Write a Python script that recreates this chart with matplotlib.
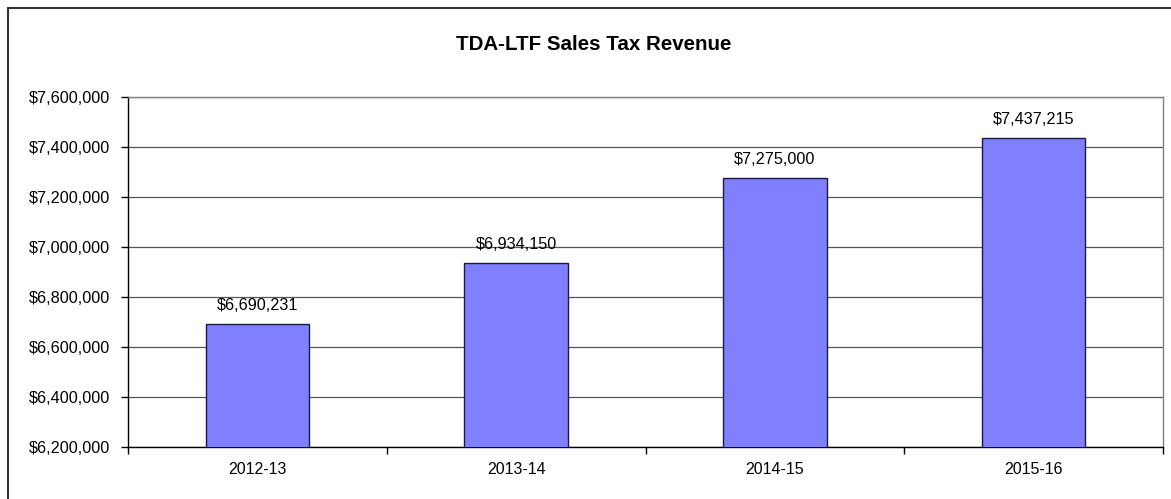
import matplotlib
matplotlib.use("Agg")
import matplotlib.pyplot as plt
from matplotlib.ticker import FuncFormatter
from matplotlib.lines import Line2D

plt.rcParams['font.family'] = ['Liberation Sans', 'DejaVu Sans']

# Data
years = ["2012-13", "2013-14", "2014-15", "2015-16"]
revenue = [6690231, 6934150, 7275000, 7437215]
y_ticks = [6200000, 6400000, 6600000, 6800000, 7000000, 7200000, 7400000, 7600000]

fig = plt.figure(figsize=(11.71, 4.99), dpi=100)
ax = fig.add_axes([128 / 1171, 1 - 447 / 499, (1163 - 128) / 1171, (447 - 97) / 499])

x = list(range(len(years)))
ax.bar(x, revenue, width=0.4, color="#8080FF", edgecolor="#1a1a40", linewidth=1, zorder=3)

# value labels above bars
for xi, v in zip(x, revenue):
    ax.annotate("${:,}".format(v), (xi, v), xytext=(0, 8), textcoords="offset points",
                ha="center", va="bottom", fontsize=11.7)

ax.set_xlim(-0.5, len(years) - 0.5)
ax.set_ylim(y_ticks[0], y_ticks[-1])
ax.set_yticks(y_ticks)
ax.yaxis.set_major_formatter(FuncFormatter(lambda v, p: "${:,.0f}".format(v)))
ax.grid(axis="y", color="#555555", linewidth=0.9, zorder=0)

# ticks at category boundaries, labels at centres
ax.set_xticks([i - 0.5 for i in range(len(years) + 1)])
ax.set_xticklabels([])
ax.set_xticks(x, minor=True)
ax.set_xticklabels(years, minor=True)
ax.tick_params(axis="x", which="major", length=5, width=1, color="black")
ax.tick_params(axis="x", which="minor", length=0, pad=11, labelsize=11.5)
ax.tick_params(axis="y", length=5, width=1, labelsize=11.7, pad=8)

for side in ["top", "right"]:
    ax.spines[side].set_color("#808080")
    ax.spines[side].set_linewidth(1)
for side in ["left", "bottom"]:
    ax.spines[side].set_color("black")
    ax.spines[side].set_linewidth(1)

fig.text(594 / 1171, 1 - 45 / 499, "TDA-LTF Sales Tax Revenue", ha="center", va="center",
         fontsize=14.8, fontweight="bold")

# outer frame (left and top edges visible)
fig.add_artist(Line2D([7.5 / 1171, 7.5 / 1171], [0, 1 - 7.5 / 499], color="#333333", linewidth=1.5))
fig.add_artist(Line2D([7.5 / 1171, 1], [1 - 7.5 / 499, 1 - 7.5 / 499], color="#333333", linewidth=1.5))

fig.savefig("out.png", dpi=100)
